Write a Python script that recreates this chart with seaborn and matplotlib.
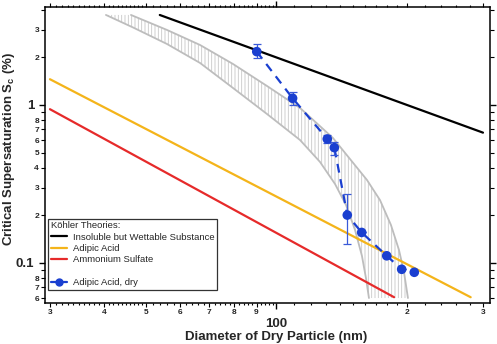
import numpy as np
import matplotlib
matplotlib.use('Agg')
import matplotlib.pyplot as plt
import seaborn as sns
from matplotlib.lines import Line2D
from matplotlib.ticker import FixedLocator, FixedFormatter

# measured critical supersaturation, adipic acid (dry generated)
diam_dry = [90.1, 109.0, 131.1, 136.1, 145.8, 157.4, 179.8, 194.7, 208.2]
sc_dry = [2.175, 1.103, 0.609, 0.537, 0.201, 0.156, 0.111, 0.0912, 0.0873]
sc_dry_hi = [2.43, 1.214, 0.646, 0.586, 0.272, 0.156, 0.111, 0.0912, 0.0873]
sc_dry_lo = [1.975, 1.0, 0.572, 0.483, 0.131, 0.156, 0.111, 0.0912, 0.0873]
n_connected = 8

# Koehler theory lines
insol_d = [53.8, 300.0]
insol_sc = [3.71, 0.668]
adipic_d = [30.0, 281.0]
adipic_sc = [1.455, 0.0607]
amsulf_d = [30.0, 187.0]
amsulf_sc = [0.94, 0.0607]

# partially soluble adipic acid band (two edges)
band_lo_d = [40.4, 46.65, 55.88, 66.62, 79.39, 95.11, 113.4, 126.1, 136.6, 144.8, 151.9, 157.6, 161.0, 163.6]
band_lo_sc = [3.712, 3.094, 2.432, 1.845, 1.281, 0.877, 0.600, 0.436, 0.316, 0.233, 0.162, 0.111, 0.0804, 0.060]
band_hi_d = [46.15, 55.88, 66.62, 79.39, 95.11, 113.4, 135.1, 161.9, 173.5, 183.9, 191.9, 197.1, 201.3]
band_hi_sc = [3.712, 2.984, 2.397, 1.817, 1.319, 0.957, 0.618, 0.335, 0.250, 0.174, 0.121, 0.0877, 0.060]

# ticks
x_major = [100]
x_minor = [30, 40, 50, 60, 70, 80, 90, 200, 300]
x_minor_lab = ['3', '4', '5', '6', '7', '8', '9', '2', '3']
x_sub = (list(range(31, 40)) + list(range(41, 50)) + list(range(52, 60, 2)) + list(range(62, 70, 2))
         + list(range(72, 80, 2)) + list(range(82, 90, 2)) + list(range(92, 100, 2))
         + list(range(110, 200, 10)) + list(range(220, 300, 20)))
y_major = [0.1, 1]
y_minor = [0.06, 0.07, 0.08, 0.09, 0.2, 0.3, 0.4, 0.5, 0.6, 0.7, 0.8, 0.9, 2, 3, 4]
y_minor_lab = ['6', '7', '8', '', '2', '3', '4', '5', '6', '7', '8', '', '2', '3', '']

c_black = '#000000'
c_orange = '#f4b41a'
c_red = '#e62a2a'
c_blue = '#1a3fd0'
c_band = '#bdbdbd'

sns.set_style('ticks')
plt.rcParams['font.family'] = ['Liberation Sans', 'DejaVu Sans']
plt.rcParams['hatch.linewidth'] = 0.6
plt.rcParams['mathtext.default'] = 'regular'

fig = plt.figure(figsize=(4.97, 3.44), dpi=100)
ax = fig.add_axes([0.0899, 0.1192, 0.896, 0.8596])
ax.set_xscale('log')
ax.set_yscale('log')

# band
ax.fill(band_lo_d + band_hi_d[::-1], band_lo_sc + band_hi_sc[::-1],
        facecolor='none', edgecolor='#c8c8c8', hatch='|||||', linewidth=0)
sns.lineplot(x=band_lo_d, y=band_lo_sc, sort=False, estimator=None, color=c_band, lw=1.3, ax=ax)
sns.lineplot(x=band_hi_d, y=band_hi_sc, sort=False, estimator=None, color=c_band, lw=1.3, ax=ax)

# theory lines
sns.lineplot(x=insol_d, y=insol_sc, color=c_black, lw=1.6, ax=ax)
sns.lineplot(x=adipic_d, y=adipic_sc, color=c_orange, lw=1.6, ax=ax)
sns.lineplot(x=amsulf_d, y=amsulf_sc, color=c_red, lw=1.6, ax=ax)

# measurements
sns.lineplot(x=diam_dry[:n_connected], y=sc_dry[:n_connected], sort=False, estimator=None,
             color=c_blue, lw=1.6, linestyle=(0, (4, 3)), ax=ax)
yerr = [np.array(sc_dry) - np.array(sc_dry_lo), np.array(sc_dry_hi) - np.array(sc_dry)]
ax.errorbar(diam_dry, sc_dry, yerr=yerr, fmt='none', ecolor='#3a5ad8', elinewidth=0.9, capsize=3, capthick=0.9)
sns.scatterplot(x=diam_dry, y=sc_dry, color=c_blue, s=48, edgecolor='none', ax=ax, zorder=5)

ax.set_xlim(29.17, 311.4)
ax.set_ylim(0.0558, 4.15)

ax.xaxis.set_major_locator(FixedLocator(x_major))
ax.xaxis.set_major_formatter(FixedFormatter(['100']))
xm = x_minor + x_sub
ax.xaxis.set_minor_locator(FixedLocator(xm))
ax.xaxis.set_minor_formatter(FixedFormatter(x_minor_lab + [''] * len(x_sub)))
ax.yaxis.set_major_locator(FixedLocator(y_major))
ax.yaxis.set_major_formatter(FixedFormatter(['0.1', '1']))
ax.yaxis.set_minor_locator(FixedLocator(y_minor))
ax.yaxis.set_minor_formatter(FixedFormatter(y_minor_lab))

ax.tick_params(which='both', direction='out', top=True, right=True, color='black')
ax.tick_params(which='major', length=4.5, width=1.0, labelsize=9.5)
ax.tick_params(which='minor', length=2.6, width=0.8, labelsize=6)
ax.tick_params(axis='x', which='major', pad=6.0)
ax.tick_params(axis='x', which='minor', pad=1.5)
ax.tick_params(axis='y', which='major', pad=3.0)
ax.tick_params(axis='y', which='minor', pad=1.5)
for lab in ax.get_xticklabels(which='both') + ax.get_yticklabels(which='both'):
    lab.set_fontweight('bold')

# shorter sub ticks
for t in ax.xaxis.get_minor_ticks()[len(x_minor):]:
    t.tick1line.set_markersize(1.6)
    t.tick2line.set_markersize(1.6)

for s in ax.spines.values():
    s.set_linewidth(1.1)
    s.set_color('black')

ax.set_xlabel('Diameter of Dry Particle (nm)', fontsize=9.5, fontweight='bold')
ax.xaxis.set_label_coords(0.519, -0.094)
ax.set_ylabel('Critical Supersaturation S$_c$ (%)', fontsize=9.5, fontweight='bold')
ax.yaxis.set_label_coords(-0.062, 0.52)

handles = [
    Line2D([], [], color=c_black, lw=1.6),
    Line2D([], [], color=c_orange, lw=1.6),
    Line2D([], [], color=c_red, lw=1.6),
    Line2D([], [], color='none'),
    Line2D([], [], color=c_blue, lw=1.6, marker='o', markersize=5),
]
labels = ['Insoluble but Wettable Substance', 'Adipic Acid', 'Ammonium Sulfate', ' ', 'Adipic Acid, dry']
leg = ax.legend(handles, labels, title='Köhler Theories:', loc='lower left',
                bbox_to_anchor=(0.008, 0.044), borderaxespad=0, fontsize=6.8, title_fontsize=6.8,
                alignment='left', frameon=True, fancybox=False, framealpha=1,
                handlelength=1.7, handletextpad=0.6, labelspacing=0.25, borderpad=0.3)
leg.get_frame().set_edgecolor('#333333')
leg.get_frame().set_linewidth(0.9)

fig.savefig('out.png', dpi=100)
